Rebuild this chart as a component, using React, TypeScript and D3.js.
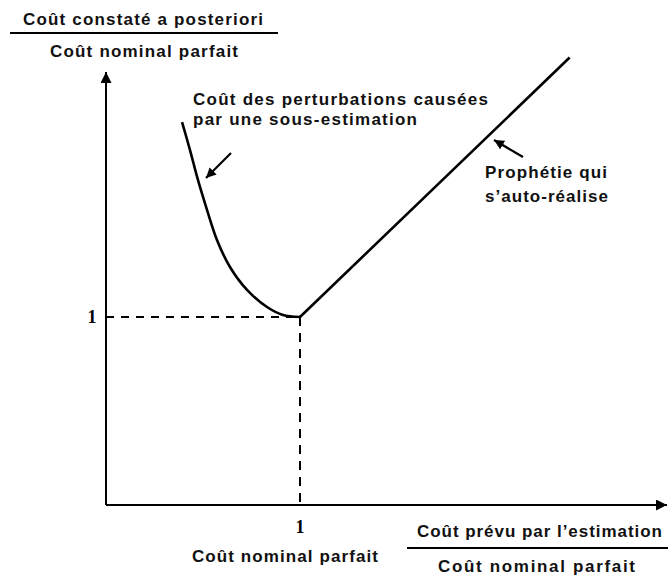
import { useEffect, useRef } from "react"
import * as d3 from "d3"

// courbe "sous-estimation" (x = prévu / nominal, y = constaté / nominal)
const underX = [0.392, 0.433, 0.474, 0.521, 0.572, 0.639, 0.727, 0.83, 0.912, 1.0]
const underY = [2.037, 1.888, 1.729, 1.569, 1.41, 1.266, 1.144, 1.053, 1.011, 1.0]
// prophétie qui s'auto-réalise : y = x
const selfX = [1.0, 2.39]
const selfY = [1.0, 2.38]
const nominal = 1

const yTitleTop = "Coût constaté a posteriori"
const yTitleBottom = "Coût nominal parfait"
const xTitleTop = "Coût prévu par l\u2019estimation"
const xTitleBottom = "Coût nominal parfait"
const nominalLabel = "Coût nominal parfait"
const leftNote = ["Coût des perturbations causées", "par une sous-estimation"]
const rightNote = ["Prophétie qui", "s\u2019auto-réalise"]

const W = 668
const H = 577
const font = "'Liberation Sans', Arial, sans-serif"

const App = () => {
  const svgRef = useRef<SVGSVGElement>(null)

  useEffect(() => {
    document.body.style.margin = "0"
    const svg = d3.select(svgRef.current)
    svg.selectAll("*").remove()
    svg.attr("width", W).attr("height", H)

    const x = d3.scaleLinear().domain([0, 1]).range([106, 300])
    const y = d3.scaleLinear().domain([0, 1]).range([505, 317])

    const defs = svg.append("defs")
    defs
      .append("marker")
      .attr("id", "head")
      .attr("viewBox", "0 0 10 10")
      .attr("refX", 10)
      .attr("refY", 5)
      .attr("markerWidth", 10)
      .attr("markerHeight", 10)
      .attr("markerUnits", "userSpaceOnUse")
      .attr("orient", "auto")
      .append("path")
      .attr("d", "M0,0 L10,5 L0,10 Z")
      .attr("fill", "#000")
    defs
      .append("marker")
      .attr("id", "bigHead")
      .attr("viewBox", "0 0 10 10")
      .attr("refX", 10)
      .attr("refY", 5)
      .attr("markerWidth", 20)
      .attr("markerHeight", 11)
      .attr("markerUnits", "userSpaceOnUse")
      .attr("orient", "auto")
      .append("path")
      .attr("d", "M0,0 L10,5 L0,10 Z")
      .attr("fill", "#000")

    // axes
    svg
      .append("line")
      .attr("x1", x(0))
      .attr("y1", y(0))
      .attr("x2", x(0))
      .attr("y2", 72)
      .attr("stroke", "#000")
      .attr("stroke-width", 2)
      .attr("marker-end", "url(#bigHead)")
    svg
      .append("line")
      .attr("x1", x(0))
      .attr("y1", y(0))
      .attr("x2", 667)
      .attr("y2", y(0))
      .attr("stroke", "#000")
      .attr("stroke-width", 2)
      .attr("marker-end", "url(#bigHead)")

    // pointillés vers (1,1)
    svg
      .append("line")
      .attr("x1", x(0))
      .attr("y1", y(nominal))
      .attr("x2", x(nominal))
      .attr("y2", y(nominal))
      .attr("stroke", "#000")
      .attr("stroke-width", 2)
      .attr("stroke-dasharray", "8,7")
    svg
      .append("line")
      .attr("x1", x(nominal))
      .attr("y1", y(nominal))
      .attr("x2", x(nominal))
      .attr("y2", y(0))
      .attr("stroke", "#000")
      .attr("stroke-width", 2)
      .attr("stroke-dasharray", "9,7")

    const line = d3
      .line<number>()
      .x((_, i) => x(underX[i]))
      .y((d) => y(d))
      .curve(d3.curveCatmullRom)

    svg
      .append("path")
      .attr("d", line(underY))
      .attr("fill", "none")
      .attr("stroke", "#000")
      .attr("stroke-width", 2.6)

    svg
      .append("path")
      .attr("d", d3.line<number>().x((_, i) => x(selfX[i])).y((d) => y(d))(selfY))
      .attr("fill", "none")
      .attr("stroke", "#000")
      .attr("stroke-width", 2.6)

    // petites flèches d'annotation
    svg
      .append("line")
      .attr("x1", 231)
      .attr("y1", 153)
      .attr("x2", 206)
      .attr("y2", 178)
      .attr("stroke", "#000")
      .attr("stroke-width", 2.2)
      .attr("marker-end", "url(#head)")
    svg
      .append("line")
      .attr("x1", 523)
      .attr("y1", 157)
      .attr("x2", 494)
      .attr("y2", 140)
      .attr("stroke", "#000")
      .attr("stroke-width", 2.2)
      .attr("marker-end", "url(#head)")

    // texte étiré à la largeur du scan
    const text = (s: string, tx: number, ty: number, width: number) =>
      svg
        .append("text")
        .attr("x", tx)
        .attr("y", ty)
        .attr("font-family", font)
        .attr("font-size", 17)
        .attr("font-weight", "bold")
        .attr("textLength", width)
        .attr("lengthAdjust", "spacing")
        .attr("fill", "#111")
        .text(s)

    // titre axe y
    text(yTitleTop, 23, 25, 240)
    svg.append("line").attr("x1", 10).attr("x2", 278).attr("y1", 33).attr("y2", 33).attr("stroke", "#000").attr("stroke-width", 2)
    text(yTitleBottom, 50, 57, 188)

    // titre axe x
    text(xTitleTop, 417, 537, 245)
    svg.append("line").attr("x1", 407).attr("x2", 668).attr("y1", 548).attr("y2", 548).attr("stroke", "#000").attr("stroke-width", 2)
    text(xTitleBottom, 438, 572, 197)

    // graduations "1"
    svg
      .append("text")
      .attr("x", x(0) - 14)
      .attr("y", y(nominal) + 6)
      .attr("text-anchor", "middle")
      .attr("font-family", "'Liberation Serif', 'DejaVu Serif', serif")
      .attr("font-size", 18)
      .attr("font-weight", "bold")
      .text("1")
    svg
      .append("text")
      .attr("x", x(nominal))
      .attr("y", 533)
      .attr("text-anchor", "middle")
      .attr("font-family", "'Liberation Serif', 'DejaVu Serif', serif")
      .attr("font-size", 18)
      .attr("font-weight", "bold")
      .text("1")
    text(nominalLabel, 192, 562, 186)

    // annotations
    text(leftNote[0], 193, 105, 295)
    text(leftNote[1], 193, 125, 224)
    text(rightNote[0], 485, 178, 122)
    text(rightNote[1], 485, 202, 123)
  }, [])

  return <svg ref={svgRef} style={{ display: "block" }}></svg>
}

export default App
